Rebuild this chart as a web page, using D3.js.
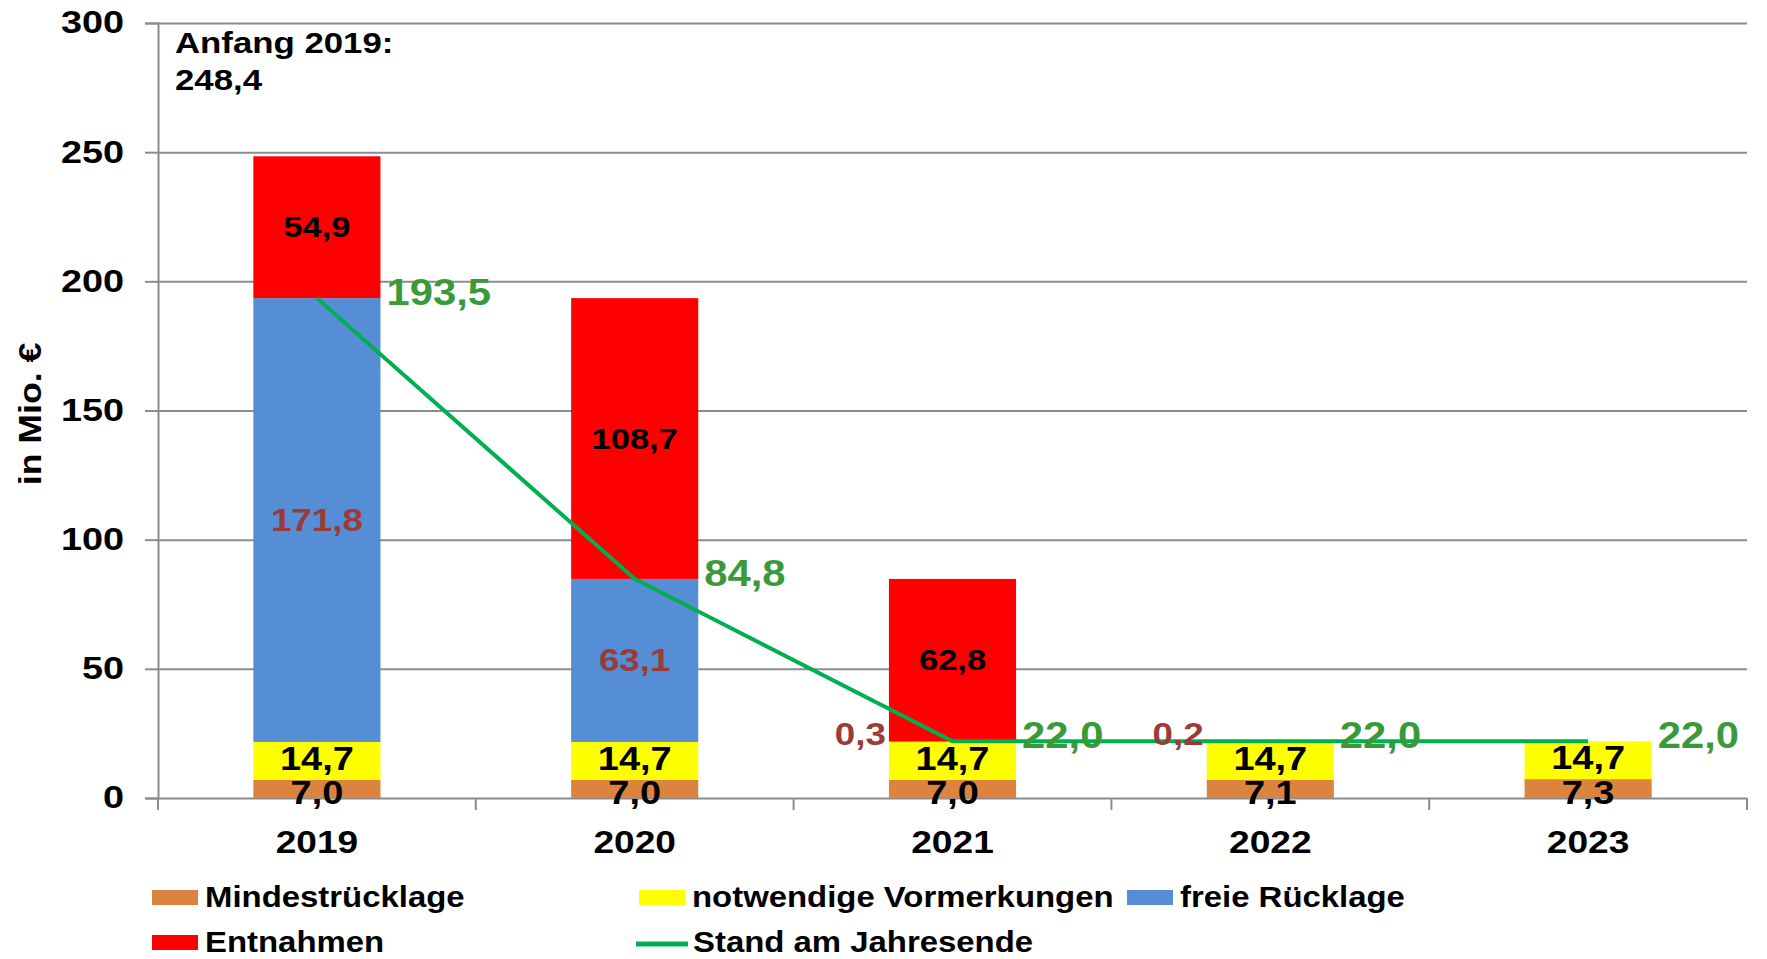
<!DOCTYPE html>
<html>
<head>
<meta charset="utf-8">
<script src="https://cdn.jsdelivr.net/npm/d3@7"></script>
<style>
  body { margin: 0; background: #fff; }
  text { font-family: "Liberation Sans", Arial, sans-serif; font-weight: bold; }
</style>
</head>
<body>
<svg id="chart" width="1767" height="959"></svg>
<script>
// values (Mio. €)
const categories = ["2019", "2020", "2021", "2022", "2023"];
const mindest   = [7.0, 7.0, 7.0, 7.1, 7.3];
const vormerk   = [14.7, 14.7, 14.7, 14.7, 14.7];
const freie     = [171.8, 63.1, 0.3, 0.2, 0.0];
const entnahmen = [54.9, 108.7, 62.8, 0, 0];
const stand     = [193.5, 84.8, 22.0, 22.0, 22.0];
const yTicks    = [0, 50, 100, 150, 200, 250, 300];
const startText = ["Anfang 2019:", "248,4"];
const seriesNames = ["Mindestrücklage", "notwendige Vormerkungen", "freie Rücklage", "Entnahmen", "Stand am Jahresende"];

const colors = {
  mindest: "#DC843F",
  vormerk: "#FFFF00",
  freie: "#558ED5",
  entnahmen: "#FF0000",
  line: "#00B050",
  lineLabel: "#3A9A3A",
  dark: "#9B3B38",
  grid: "#8C8C8C"
};

const svg = d3.select("#chart");
const fmt = v => d3.format(".1f")(v).replace(".", ",");

// text in the picture is a bit wider than Arial, so stretch it sideways
function stretch(sel, sx) {
  sel.each(function () {
    const t = d3.select(this);
    const x = +t.attr("x") || 0, y = +t.attr("y") || 0;
    t.attr("x", 0).attr("y", 0).attr("transform", `translate(${x},${y}) scale(${sx},1)`);
  });
}

const x = d3.scaleBand().domain(categories).range([158, 1747]).padding(0);
const y = d3.scaleLinear().domain([0, 300]).range([798, 23]);
const barW = x.bandwidth() * 0.4;
const cx = c => x(c) + x.bandwidth() / 2;

// gridlines + y axis
const yAxis = svg.append("g")
  .attr("transform", "translate(158,0)")
  .call(d3.axisLeft(y).tickValues(yTicks).tickSize(13).tickPadding(21).tickFormat(d3.format("d")));
yAxis.select(".domain").attr("stroke", colors.grid).attr("stroke-width", 2);
yAxis.selectAll(".tick line").attr("stroke", colors.grid).attr("stroke-width", 2);
yAxis.selectAll(".tick").append("line")
  .attr("x1", 0).attr("x2", 1747 - 158)
  .attr("stroke", colors.grid).attr("stroke-width", 2);
yAxis.selectAll(".tick text").attr("font-size", 31).attr("fill", "#000");
stretch(yAxis.selectAll(".tick text"), 1.22);

// x axis: boundary ticks and labels
const bounds = categories.map(c => x(c)).concat([x(categories[categories.length - 1]) + x.bandwidth()]);
svg.append("g").selectAll("line").data(bounds).join("line")
  .attr("x1", d => d).attr("x2", d => d)
  .attr("y1", y(0)).attr("y2", y(0) + 12)
  .attr("stroke", colors.grid).attr("stroke-width", 2);

const xAxis = svg.append("g")
  .attr("transform", `translate(0,${y(0)})`)
  .call(d3.axisBottom(x).tickSize(0));
xAxis.select(".domain").remove();
xAxis.selectAll(".tick text").attr("y", 55).attr("dy", null).attr("font-size", 32).attr("fill", "#000");
stretch(xAxis.selectAll(".tick text"), 1.16);

// stacked bars
const rows = categories.map((c, i) => ({
  cat: c, mindest: mindest[i], vormerk: vormerk[i], freie: freie[i], entnahmen: entnahmen[i]
}));
const keys = ["mindest", "vormerk", "freie", "entnahmen"];
const stacked = d3.stack().keys(keys)(rows);

svg.append("g").selectAll("g").data(stacked).join("g")
  .attr("fill", s => colors[s.key])
  .selectAll("rect").data(s => s).join("rect")
  .attr("x", d => cx(d.data.cat) - barW / 2)
  .attr("width", barW)
  .attr("y", d => y(d[1]))
  .attr("height", d => y(d[0]) - y(d[1]));

// line
const line = d3.line().x(d => cx(d.cat)).y(d => y(d.v));
const linePts = categories.map((c, i) => ({ cat: c, v: stand[i] }));
svg.append("path").datum(linePts)
  .attr("d", line)
  .attr("fill", "none")
  .attr("stroke", colors.line)
  .attr("stroke-width", 4);

// labels inside bars
const lbl = svg.append("g");
stacked.forEach(s => {
  s.forEach(d => {
    const v = d.data[s.key];
    if (v <= 0) return;
    const mid = (y(d[0]) + y(d[1])) / 2;
    let t;
    if (s.key === "mindest") {
      t = lbl.append("text").attr("x", cx(d.data.cat)).attr("y", mid + 15)
        .attr("font-size", 33).attr("fill", "#000").attr("text-anchor", "middle");
    } else if (s.key === "vormerk") {
      t = lbl.append("text").attr("x", cx(d.data.cat)).attr("y", mid + 9)
        .attr("font-size", 33).attr("fill", "#000").attr("text-anchor", "middle");
    } else if (s.key === "freie") {
      if (y(d[0]) - y(d[1]) > 20) {
        t = lbl.append("text").attr("x", cx(d.data.cat)).attr("y", mid + 11)
          .attr("font-size", 32).attr("fill", colors.dark).attr("text-anchor", "middle");
      } else {
        t = lbl.append("text").attr("x", cx(d.data.cat) - barW / 2 - 3).attr("y", y(d[1]) + 4)
          .attr("font-size", 32).attr("fill", colors.dark).attr("text-anchor", "end");
      }
    } else {
      t = lbl.append("text").attr("x", cx(d.data.cat)).attr("y", mid + 10)
        .attr("font-size", 30).attr("fill", "#000").attr("text-anchor", "middle");
    }
    t.text(fmt(v));
    stretch(t, 1.15);
  });
});

// line values right of bars
const lv = lbl.selectAll(".lv").data(linePts).join("text")
  .attr("class", "lv")
  .attr("x", d => cx(d.cat) + barW / 2 + 6)
  .attr("y", d => y(d.v) + 7)
  .attr("font-size", 37)
  .attr("fill", colors.lineLabel)
  .text(d => fmt(d.v));
stretch(lv, 1.13);

// start note
const note = svg.append("text").attr("font-size", 30).attr("fill", "#000");
note.selectAll("tspan").data(startText).join("tspan")
  .attr("x", 175).attr("y", (d, i) => 53 + i * 37)
  .text(d => d);
note.attr("transform", "translate(175,0) scale(1.16,1) translate(-175,0)");

// y axis title
svg.append("text")
  .attr("transform", "translate(30,414) rotate(-90) scale(1.15,1)")
  .attr("text-anchor", "middle").attr("dy", "0.35em")
  .attr("font-size", 31).attr("fill", "#000")
  .text("in Mio. €");

// legend
const legendItems = [
  { name: seriesNames[0], color: colors.mindest, sx: 152, row: 0, type: "rect" },
  { name: seriesNames[1], color: colors.vormerk, sx: 639, row: 0, type: "rect" },
  { name: seriesNames[2], color: colors.freie, sx: 1127, row: 0, type: "rect" },
  { name: seriesNames[3], color: colors.entnahmen, sx: 152, row: 1, type: "rect" },
  { name: seriesNames[4], color: colors.line, sx: 636, row: 1, type: "line" }
];
const leg = svg.append("g").selectAll("g").data(legendItems).join("g")
  .attr("transform", d => `translate(${d.sx},${897 + d.row * 45})`);
leg.filter(d => d.type === "rect").append("rect")
  .attr("x", 0).attr("y", -7).attr("width", 46).attr("height", 15)
  .attr("fill", d => d.color);
leg.filter(d => d.type === "line").append("line")
  .attr("x1", 0).attr("x2", 52).attr("y1", 2).attr("y2", 2)
  .attr("stroke", d => d.color).attr("stroke-width", 5);
const legText = leg.append("text")
  .attr("x", d => d.type === "line" ? 57 : 53)
  .attr("y", 10)
  .attr("font-size", 29).attr("fill", "#000")
  .text(d => d.name);
stretch(legText, 1.135);
</script>
</body>
</html>
